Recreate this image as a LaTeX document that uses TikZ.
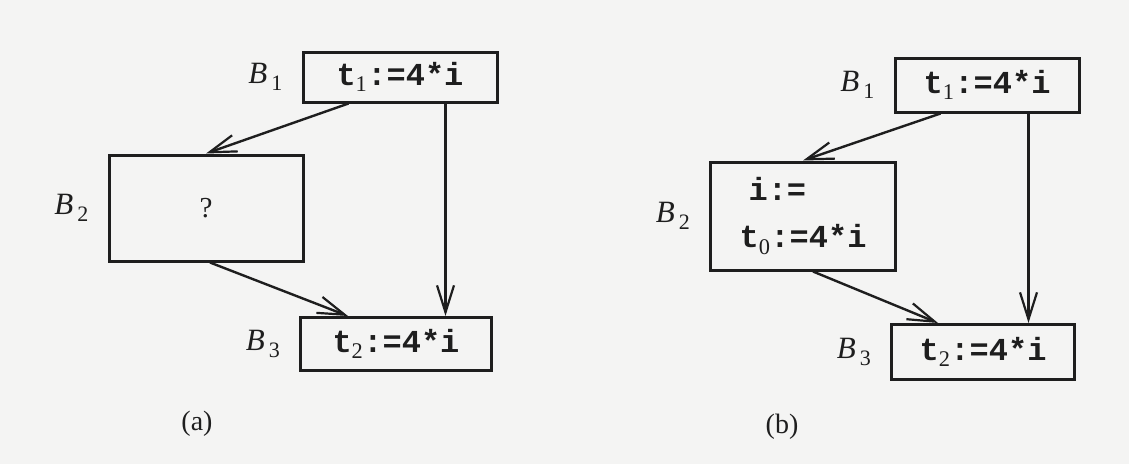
\documentclass[tikz,border=0pt]{standalone}
\usepackage{fontspec}
\setmainfont{Liberation Serif}
\setmonofont{Liberation Mono}
\usetikzlibrary{arrows.meta}
\usetikzlibrary{positioning}

\definecolor{ink}{RGB}{30,30,30}
\definecolor{paper}{RGB}{244,244,243}

\newcommand{\codefont}{\fontsize{32}{47}\selectfont\ttfamily\bfseries}
\newcommand{\tvar}[1]{t\textsubscript{\rmfamily\mdseries #1}}
\newcommand{\blkname}[1]{\textit{B}\kern4pt\raisebox{-7pt}{\fontsize{22}{22}\selectfont #1}}

\tikzset{
  blockbox/.style={draw=ink, line width=3pt, inner sep=0pt, text=ink, font=\codefont},
  blocklabel/.style={text=ink, font=\fontsize{31}{31}\selectfont, inner sep=0pt},
  caption/.style={text=ink, font=\fontsize{28}{28}\selectfont},
  flow/.style={draw=ink, line width=2.4pt, -{Straight Barb[length=27pt,width=17pt,line width=2.2pt]}},
}

\begin{document}
\begin{tikzpicture}[x=1pt, y=-1pt]
  \useasboundingbox[fill=paper] (0,0) rectangle (1129,464);

  % (a)
  \node[blockbox, minimum width=194pt, minimum height=50pt] (aB1) at (400,77) {\tvar{1}:=4*i};
  \node[blockbox, minimum width=194pt, minimum height=106pt, font=\fontsize{29}{29}\selectfont] (aB2) at (206,208) {?};
  \node[blockbox, minimum width=191pt, minimum height=53pt] (aB3) at (396,344) {\tvar{2}:=4*i};

  \node[blocklabel, left=19pt of aB1] (aL1) {\blkname{1}};
  \node[blocklabel, left=19pt of aB2] (aL2) {\blkname{2}};
  \node[blocklabel, left=19pt of aB3] (aL3) {\blkname{3}};

  \coordinate (aS1) at ([xshift=47pt]aB1.south west);
  \coordinate (aS2) at ([xshift=144pt]aB1.south west);
  \coordinate (aE3) at ([xshift=49pt]aB3.north west);
  \draw[flow] (aS1) -- (aB2.north);
  \draw[flow] ([xshift=4pt]aB2.south) -- (aE3);
  \draw[flow] (aS2) -- (aS2 |- aB3.north);

  \node[caption] (capA) at (197,424) {(a)};

  % (b)
  \node[blockbox, minimum width=184pt, minimum height=54pt] (bB1) at (987,85) {\tvar{1}:=4*i};
  \node[blockbox, minimum width=185pt, minimum height=108pt, align=left] (bB2) at (803,216) {\hspace{9pt}i:=\\\tvar{0}:=4*i};
  \node[blockbox, minimum width=183pt, minimum height=55pt] (bB3) at (983,352) {\tvar{2}:=4*i};

  \node[blocklabel, left=19pt of bB1] (bL1) {\blkname{1}};
  \node[blocklabel, left=19pt of bB2] (bL2) {\blkname{2}};
  \node[blocklabel, left=19pt of bB3] (bL3) {\blkname{3}};

  \coordinate (bS1) at ([xshift=47pt]bB1.south west);
  \coordinate (bS2) at ([xshift=135pt]bB1.south west);
  \coordinate (bE3) at ([xshift=48pt]bB3.north west);
  \draw[flow] (bS1) -- (bB2.north);
  \draw[flow] ([xshift=10pt]bB2.south) -- (bE3);
  \draw[flow] (bS2) -- (bS2 |- bB3.north);

  \node[caption] (capB) at (782,427) {(b)};
\end{tikzpicture}
\end{document}
